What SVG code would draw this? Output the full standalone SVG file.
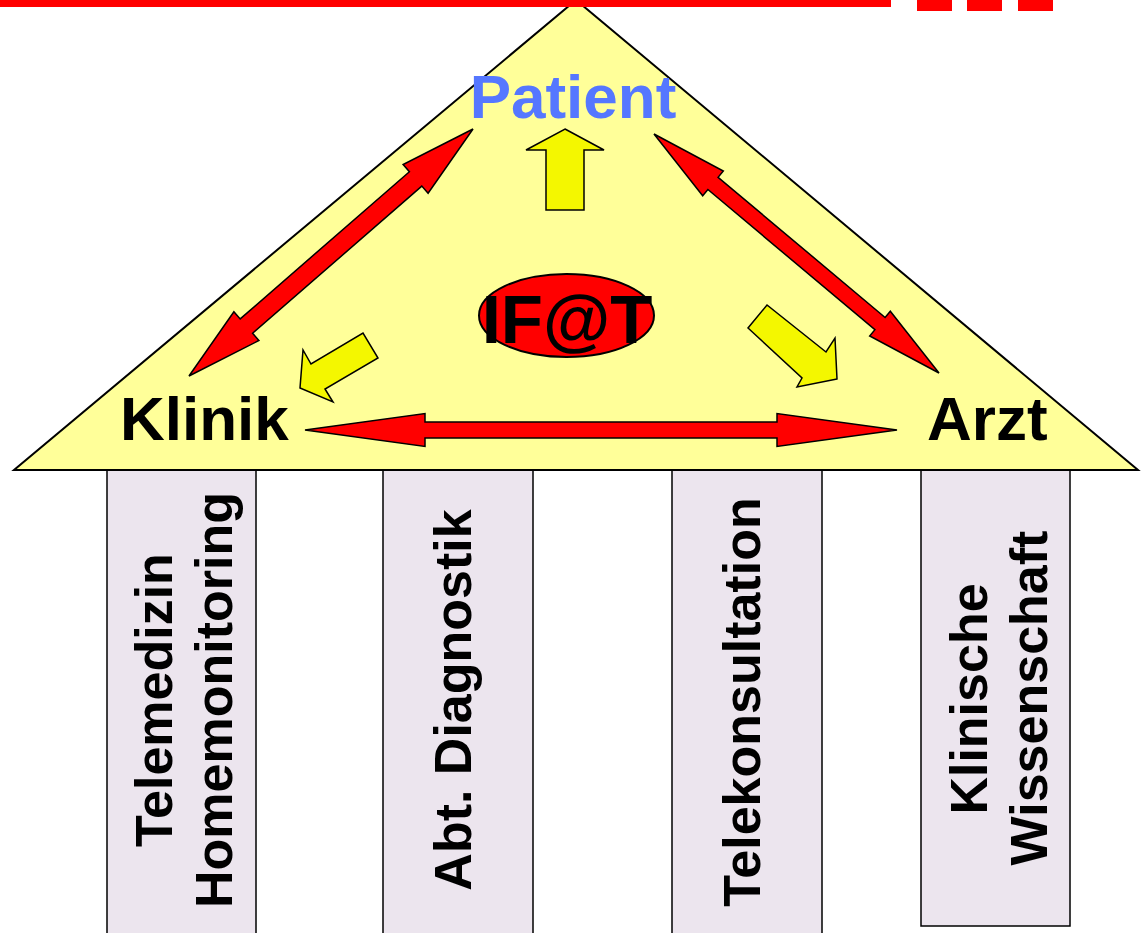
<svg xmlns="http://www.w3.org/2000/svg" width="1142" height="933" viewBox="0 0 1142 933">
<style>
  .lbl { font-family: "Liberation Sans", Arial, sans-serif; font-weight: bold; }
  .pillar { fill: #ece5ee; stroke: #000; stroke-width: 1.5; }
  .ptxt { font-family: "Liberation Sans", Arial, sans-serif; font-weight: bold; font-size: 52px; fill: #000; text-anchor: middle; }
  .red { fill: #ff0000; stroke: #000; stroke-width: 1.5; stroke-linejoin: miter; }
  .yel { fill: #f4f700; stroke: #000; stroke-width: 1.5; stroke-linejoin: miter; }
  .bar { fill: #ff0000; }
</style>
<rect x="0" y="0" width="1142" height="933" fill="#ffffff"/>

<g id="pillars">
  <g id="pillar-telemedizin">
    <rect class="pillar" x="107" y="470" width="149" height="470"/>
    <text class="ptxt" transform="translate(172,700) rotate(-90)" x="0" y="0">Telemedizin</text>
    <text class="ptxt" transform="translate(232,700) rotate(-90)" x="0" y="0">Homemonitoring</text>
  </g>
  <g id="pillar-diagnostik">
    <rect class="pillar" x="383" y="470" width="150" height="470"/>
    <text class="ptxt" transform="translate(471,700) rotate(-90)" x="0" y="0">Abt. Diagnostik</text>
  </g>
  <g id="pillar-telekonsultation">
    <rect class="pillar" x="672" y="470" width="150" height="470"/>
    <text class="ptxt" transform="translate(760,702) rotate(-90)" x="0" y="0">Telekonsultation</text>
  </g>
  <g id="pillar-wissenschaft">
    <rect class="pillar" x="921" y="470" width="149" height="456"/>
    <text class="ptxt" transform="translate(987,699) rotate(-90)" x="0" y="0">Klinische</text>
    <text class="ptxt" transform="translate(1047,698) rotate(-90)" x="0" y="0">Wissenschaft</text>
  </g>
</g>

<g id="roof">
  <polygon points="576,0 1138,470 14,470" fill="#ffff99" stroke="#000" stroke-width="2" stroke-linejoin="miter"/>
</g>

<g id="header">
  <rect class="bar" x="0" y="0" width="891" height="7"/>
  <rect class="bar" x="917" y="0" width="35" height="11"/>
  <rect class="bar" x="967" y="0" width="35" height="11"/>
  <rect class="bar" x="1018" y="0" width="35" height="11"/>
</g>

<g id="connectors">
  <polygon class="red" points="473,129 428.1,193.3 421.8,186.1 252.6,333.3 258.9,340.5 189,376 233.9,311.7 240.2,318.9 409.4,171.7 403.1,164.5"/>
  <polygon class="red" points="654,134 702.7,195.7 707.9,189.5 874.9,329.7 869.7,335.9 939,373 890.3,311.3 885.1,317.5 718.1,177.3 723.3,171.1"/>
  <polygon class="red" points="305,430 425,413.5 425,422 777,422 777,413.5 897,430 777,446.5 777,438 425,438 425,446.5"/>
  <polygon class="yel" points="565,129 604,150 584,150 584,210 546,210 546,150 526,150"/>
  <polygon class="yel" points="300,388 303,350 311,364 363,333 378,358 325,389 333,402"/>
  <polygon class="yel" points="837,379 797,387 802,378 748,328 767,305 826,352 835,338"/>
</g>

<g id="node-patient">
  <text class="lbl" x="573" y="118" font-size="62" fill="#5577ff" text-anchor="middle">Patient</text>
</g>
<g id="node-ifat">
  <ellipse cx="566.5" cy="315.5" rx="87.5" ry="41.5" fill="#ff0000" stroke="#000" stroke-width="2"/>
  <text class="lbl" x="567" y="343" font-size="69" fill="#000" text-anchor="middle">IF@T</text>
</g>
<g id="node-klinik">
  <text class="lbl" x="120" y="440" font-size="62" fill="#000">Klinik</text>
</g>
<g id="node-arzt">
  <text class="lbl" x="927" y="440" font-size="62" fill="#000">Arzt</text>
</g>
</svg>
